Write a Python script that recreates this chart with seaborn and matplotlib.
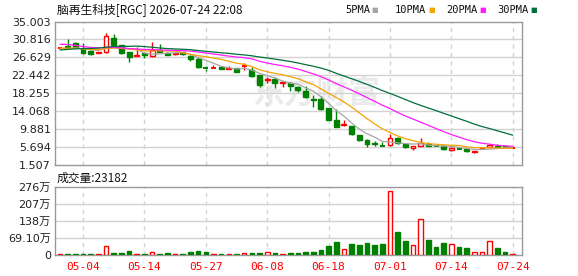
import matplotlib
matplotlib.use("Agg")
import matplotlib.pyplot as plt
import seaborn as sns
import numpy as np
import pandas as pd

# ---------------- data ----------------
dates = ["04-29", "04-30", "05-01", "05-04", "05-05", "05-06", "05-07", "05-08", "05-11", "05-12",
         "05-13", "05-14", "05-15", "05-18", "05-19", "05-20", "05-21", "05-22", "05-26", "05-27",
         "05-28", "05-29", "06-01", "06-02", "06-03", "06-04", "06-05", "06-08", "06-09", "06-10",
         "06-11", "06-12", "06-15", "06-16", "06-17", "06-18", "06-22", "06-23", "06-24", "06-25",
         "06-26", "06-29", "06-30", "07-01", "07-02", "07-06", "07-07", "07-08", "07-09", "07-10",
         "07-13", "07-14", "07-15", "07-16", "07-17", "07-20", "07-21", "07-22", "07-23", "07-24"]

opens = [28.8, 29.3, 30.1, 28.7, 28.2, 27.7, 27.8, 31.1, 29.5, 27.8,
         27.0, 27.6, 26.9, 28.3, 27.6, 27.4, 27.9, 27.0, 26.2, 24.1,
         24.1, 24.4, 24.0, 24.1, 24.5, 23.6, 22.5, 21.3, 21.5, 20.7,
         20.6, 19.8, 18.8, 16.9, 16.9, 14.7, 12.1, 10.8, 10.5, 8.5,
         7.4, 6.7, 6.05, 6.1, 7.9, 6.3, 5.5, 5.95, 6.4, 6.05,
         6.0, 5.0, 5.4, 5.2, 4.5, 5.1, 5.6, 6.0, 5.9, 5.45]
highs = [29.0, 30.9, 30.2, 29.9, 28.4, 28.0, 32.4, 32.1, 29.6, 27.9,
         29.0, 27.9, 30.3, 29.7, 27.9, 27.7, 28.0, 27.2, 26.7, 24.5,
         24.85, 24.5, 24.6, 24.2, 25.4, 24.3, 22.6, 22.1, 22.1, 21.0,
         20.9, 20.0, 19.9, 17.8, 17.6, 14.8, 14.5, 11.9, 10.7, 8.6,
         7.5, 7.2, 6.8, 8.8, 8.0, 6.5, 6.0, 7.7, 6.9, 6.1,
         6.1, 5.6, 5.6, 5.3, 4.8, 5.3, 6.3, 6.4, 6.0, 5.6]
lows = [28.7, 28.8, 28.9, 27.4, 27.2, 27.6, 27.7, 29.5, 27.4, 25.6,
        26.9, 26.5, 26.8, 27.8, 27.1, 27.3, 27.3, 25.8, 24.2, 23.4,
        24.1, 23.9, 23.9, 23.2, 23.7, 22.1, 19.8, 20.6, 19.4, 19.7,
        18.8, 18.6, 17.2, 15.0, 14.4, 11.9, 10.3, 10.6, 8.6, 7.0,
        5.8, 5.9, 5.9, 6.0, 6.4, 5.5, 5.1, 5.9, 5.9, 5.9,
        4.9, 4.8, 5.2, 4.6, 4.3, 5.0, 5.5, 5.7, 5.5, 5.4]
closes = [28.9, 29.1, 29.1, 27.6, 27.5, 27.9, 31.6, 29.6, 27.6, 26.6,
          27.2, 27.1, 28.4, 28.0, 27.3, 27.6, 27.5, 26.2, 24.4, 24.0,
          24.2, 24.0, 24.2, 23.3, 24.6, 22.3, 20.2, 21.5, 20.6, 20.9,
          19.9, 18.9, 17.3, 16.7, 14.5, 12.0, 10.4, 11.0, 8.7, 7.4,
          6.5, 6.5, 5.95, 7.9, 6.6, 5.6, 5.9, 6.55, 6.0, 6.0,
          5.2, 5.5, 5.3, 4.85, 4.75, 5.2, 6.1, 5.8, 5.6, 5.55]
# closes of the 29 sessions before the window (needed for the moving averages)
prior_closes = [24.8, 25.2, 25.9, 26.3, 25.5, 25.0, 25.8, 26.2, 26.0, 25.8,
                30.5, 32.8, 33.4, 31.5, 30.0,
                29.8, 29.2, 30.1, 29.6, 29.1,
                29.4, 28.8, 29.3, 28.9, 28.6,
                28.7, 28.3, 28.6, 28.5]
volumes = [40000, 40000, 40000, 40000, 40000, 40000, 360000, 90000, 90000, 160000,
           40000, 40000, 120000, 40000, 80000, 40000, 40000, 120000, 160000, 120000,
           40000, 40000, 40000, 40000, 80000, 80000, 80000, 120000, 80000, 40000,
           80000, 80000, 120000, 120000, 200000, 360000, 520000, 230000, 440000, 400000,
           480000, 400000, 440000, 2570000, 930000, 560000, 400000, 1440000, 600000, 320000,
           480000, 440000, 320000, 280000, 120000, 120000, 560000, 280000, 120000, 23182]

ma_periods = [5, 10, 20, 30]
ma_labels = ["5PMA", "10PMA", "20PMA", "30PMA"]
ma_colors = ["#a6a6a6", "#f5a300", "#ff1aff", "#006f3c"]

price_ticks = [1.507, 5.694, 9.881, 14.068, 18.255, 22.442, 26.629, 30.816, 35.003]
vol_ticks = [0, 691000, 1380000, 2070000, 2760000]
vol_tick_labels = ["0", "69.10万", "138万", "207万", "276万"]
date_tick_labels = ["05-04", "05-14", "05-27", "06-08", "06-18", "07-01", "07-14", "07-24"]

title = "脑再生科技[RGC] 2026-07-24 22:08"
vol_title = "成交量:23182"

# ---------------- style ----------------
sns.set_style("white")
plt.rcParams["font.family"] = ["DejaVu Sans", "Noto Sans CJK SC"]

RED = "#ff0000"
GREEN = "#008000"
GRID = "#d2d2d2"
SPINE = "#999999"

W, H = 578, 276
fig = plt.figure(figsize=(W / 100, H / 100), dpi=100)
fig.patch.set_facecolor("white")

L, R = 55, 522
ax = fig.add_axes([L / W, 1 - 165 / H, (R - L) / W, (165 - 21.5) / H])
axv = fig.add_axes([L / W, 1 - 255 / H, (R - L) / W, (255 - 186.7) / H])

n = len(dates)
x = np.arange(n)
o = np.array(opens); h = np.array(highs); lo = np.array(lows); c = np.array(closes)
up = c >= o

# moving averages
allc = pd.Series(prior_closes + closes)
ma_df = pd.DataFrame({"x": np.tile(x, len(ma_periods)),
                      "ma": np.concatenate([allc.rolling(p).mean().values[-n:] for p in ma_periods]),
                      "kind": np.repeat(ma_labels, n)})

# watermark
ax.text(0.56, 0.49, "东方财富", transform=ax.transAxes, fontsize=23, fontweight="bold",
        style="italic", color="#eaeaea", ha="center", va="center",
        family=["Noto Sans CJK SC"], zorder=0)

bw = 0.64
for i in x:
    col = RED if up[i] else GREEN
    top, bot = max(o[i], c[i]), min(o[i], c[i])
    ax.vlines(i, top, h[i], color=col, lw=1.0, zorder=3)
    ax.vlines(i, lo[i], bot, color=col, lw=1.0, zorder=3)
    if top - bot < 0.12:
        ax.hlines((top + bot) / 2, i - bw / 2, i + bw / 2, color=col, lw=1.4, zorder=4)
    else:
        ax.bar(i, top - bot, bottom=bot, width=bw, facecolor=("white" if up[i] else GREEN),
               edgecolor=col, linewidth=1.0, zorder=4)

sns.lineplot(data=ma_df, x="x", y="ma", hue="kind", palette=dict(zip(ma_labels, ma_colors)),
             ax=ax, lw=0.9, legend=False, zorder=5)

# volume
vb = 0.6
for i in x:
    col = RED if up[i] else GREEN
    axv.bar(i, volumes[i], width=vb, facecolor=("white" if up[i] else GREEN), edgecolor=col,
            linewidth=1.0, zorder=3)

tick_pos = [dates.index(d) for d in date_tick_labels]
for a in (ax, axv):
    a.set_xlim(-0.65, n + 0.2)
    for p in tick_pos:
        a.axvline(p, color=GRID, lw=1.0, ls=(0, (3, 3)), zorder=1)
    for s in a.spines.values():
        s.set_color(SPINE)
        s.set_linewidth(1.0)
    a.set_xlabel("")
    a.set_ylabel("")

ax.set_ylim(1.507, 35.003)
ax.set_yticks(price_ticks)
ax.set_yticklabels([f"{t:.3f}" for t in price_ticks])
for t in price_ticks[1:-1]:
    ax.axhline(t, color=GRID, lw=1.0, zorder=1)
ax.set_xticks([])
ax.tick_params(axis="y", length=0, pad=3, labelsize=8, labelcolor="#222222")

axv.set_ylim(0, 2764000)
axv.set_yticks(vol_ticks)
axv.set_yticklabels(vol_tick_labels, family=["DejaVu Sans", "Noto Sans CJK SC"])
for t in vol_ticks[1:-1]:
    axv.axhline(t, color=GRID, lw=1.0, zorder=1)
axv.set_xticks(tick_pos)
axv.set_xticklabels(date_tick_labels, family="DejaVu Sans Mono", color=RED)
axv.tick_params(axis="y", length=0, pad=3, labelsize=8, labelcolor="#222222")
axv.tick_params(axis="x", length=0, pad=5, labelsize=8)

# texts
fig.text(57 / W, 1 - 10 / H, title, fontsize=8.5, va="center", ha="left",
         family=["Noto Sans CJK SC", "DejaVu Sans"], color="#111111")
fig.text(57 / W, 1 - 178 / H, vol_title, fontsize=8.5, va="center", ha="left",
         family=["Noto Sans CJK SC", "DejaVu Sans"], color="#111111")

leg_x = [345, 395, 446, 497]
for lx, lab, col in zip(leg_x, ma_labels, ma_colors):
    fig.text(lx / W, 1 - 10 / H, lab, fontsize=7.5, va="center", ha="left", color="#111111",
             family="DejaVu Sans Mono")
    fig.text((lx + len(lab) * 6.2 + 2) / W, 1 - 10 / H, "■", fontsize=5, va="center",
             ha="left", color=col)

fig.savefig("out.png", dpi=100, facecolor="white")
